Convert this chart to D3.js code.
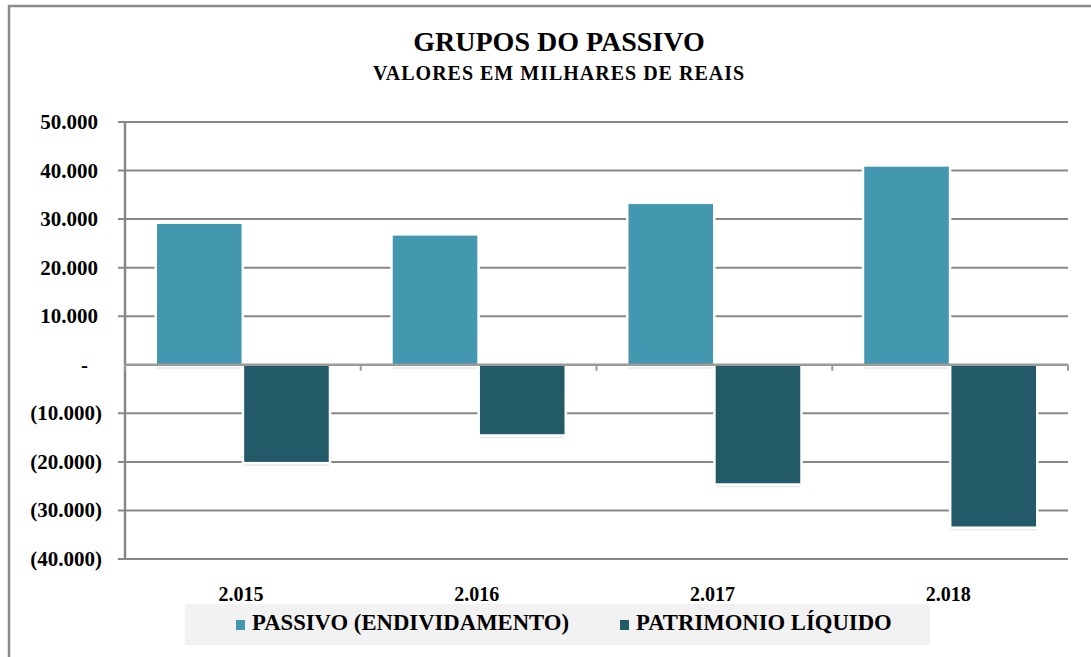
<!DOCTYPE html>
<html>
<head>
<meta charset="utf-8">
<script src="https://d3js.org/d3.v7.min.js"></script>
<style>
body {
  margin: 0;
  background: #fff;
}
svg text {
  font-family: 'Liberation Serif', 'DejaVu Serif', serif;
  font-weight: 700;
  fill: #000;
}
.grid line {
  stroke: #878787;
  stroke-width: 2;
}
</style>
</head>
<body>
<div id="chart"></div>
<script>

var anos = ["2.015", "2.016", "2.017", "2.018"];
var series = ["PASSIVO (ENDIVIDAMENTO)", "PATRIMONIO LÍQUIDO"];
var passivo = [29000, 26600, 33100, 40800];
var patrimonio = [-20000, -14300, -24400, -33300];
var yTicks = [50000, 40000, 30000, 20000, 10000, 0, -10000, -20000, -30000, -40000];
var cores = ["#4398af", "#225a68"];

var W = 1091, H = 657;
var fonte = "'Liberation Serif', 'DejaVu Serif', serif";

var svg = d3.select("#chart")
    .append("svg")
    .attr("width", W)
    .attr("height", H)
    .attr("font-family", fonte);

// moldura do grafico (so topo e esquerda aparecem)
svg.append("rect")
    .attr("x", 9).attr("y", 6)
    .attr("width", 1200).attr("height", 700)
    .attr("fill", "none")
    .attr("stroke", "#8a8a8a")
    .attr("stroke-width", 2.5);

svg.append("text")
    .attr("x", 559).attr("y", 51)
    .attr("text-anchor", "middle")
    .style("font-size", "28px")
    .text("GRUPOS DO PASSIVO");
svg.append("text")
    .attr("x", 559).attr("y", 80)
    .attr("text-anchor", "middle")
    .style("font-size", "20px")
    .style("letter-spacing", "1px")
    .text("VALORES EM MILHARES DE REAIS");

var x0 = d3.scaleBand().domain(anos).range([125, 1068]);
var x1 = d3.scaleBand().domain(series).range([32, x0.bandwidth() - 32]).paddingInner(0.03);
var y = d3.scaleLinear().domain([-40000, 50000]).range([559, 122]);

var fmt = d3.formatLocale({decimal: ",", thousands: ".", grouping: [3]}).format(",.0f");
function rotulo(d) {
  if (d == 0) return "-";
  if (d < 0) return "(" + fmt(-d) + ")";
  return fmt(d);
}

// linhas de grade
svg.append("g")
    .attr("class", "grid")
    .selectAll("line")
    .data(yTicks.filter(function(d){ return d != 0; }))
    .enter().append("line")
    .attr("x1", 118).attr("x2", 1068)
    .attr("y1", function(d){ return y(d); })
    .attr("y2", function(d){ return y(d); });

svg.append("line")
    .attr("x1", 125).attr("x2", 125)
    .attr("y1", y(50000)).attr("y2", y(-40000))
    .attr("stroke", "#878787").attr("stroke-width", 2.5);

svg.append("g")
    .selectAll("text")
    .data(yTicks)
    .enter().append("text")
    .attr("x", function(d){ return d < 0 ? 102 : (d == 0 ? 88 : 98); })
    .attr("y", function(d){ return y(d) + 7; })
    .attr("text-anchor", "end")
    .style("font-size", "21px")
    .text(rotulo);

var dados = anos.map(function(a, i){
  return [{s: series[0], v: passivo[i]}, {s: series[1], v: patrimonio[i]}];
});

var grupos = svg.selectAll(".grupo")
    .data(dados)
    .enter().append("g")
    .attr("class", "grupo")
    .attr("transform", function(d, i){ return "translate(" + x0(anos[i]) + ",0)"; });

// sombra pontilhada embaixo das barras
grupos.selectAll(".sombra")
    .data(function(d){ return d; })
    .enter().append("line")
    .attr("x1", function(d){ return x1(d.s); })
    .attr("x2", function(d){ return x1(d.s) + x1.bandwidth(); })
    .attr("y1", function(d){ return (d.v > 0 ? y(0) : y(d.v)) + 3; })
    .attr("y2", function(d){ return (d.v > 0 ? y(0) : y(d.v)) + 3; })
    .attr("stroke", "#d4d4d4")
    .attr("stroke-width", 2)
    .attr("stroke-dasharray", "1,1");

grupos.selectAll("rect")
    .data(function(d){ return d; })
    .enter().append("rect")
    .attr("x", function(d){ return x1(d.s); })
    .attr("width", x1.bandwidth())
    .attr("y", function(d){ return y(Math.max(0, d.v)); })
    .attr("height", function(d){ return Math.abs(y(d.v) - y(0)); })
    .attr("fill", function(d, i){ return cores[i]; })
    .attr("stroke", "#fff")
    .attr("stroke-width", 5)
    .style("paint-order", "stroke");

// eixo do zero
svg.append("line")
    .attr("x1", 125).attr("x2", 1068)
    .attr("y1", y(0)).attr("y2", y(0))
    .attr("stroke", "#9a9a9a").attr("stroke-width", 2.5);

svg.append("g")
    .selectAll("line")
    .data(anos.concat(["fim"]))
    .enter().append("line")
    .attr("x1", function(d, i){ return 125 + i * x0.bandwidth(); })
    .attr("x2", function(d, i){ return 125 + i * x0.bandwidth(); })
    .attr("y1", y(0)).attr("y2", y(0) + 6)
    .attr("stroke", "#9a9a9a").attr("stroke-width", 2);

svg.append("g")
    .selectAll("text")
    .data(anos)
    .enter().append("text")
    .attr("x", function(d){ return x0(d) + x0.bandwidth() / 2 - 2; })
    .attr("y", 601)
    .attr("text-anchor", "middle")
    .style("font-size", "20px")
    .text(function(d){ return d; });

// legenda
svg.append("rect")
    .attr("x", 185).attr("y", 604)
    .attr("width", 745).attr("height", 41)
    .attr("fill", "#f2f2f2");

var legX = [236, 620];
var leg = svg.selectAll(".leg")
    .data(series)
    .enter().append("g")
    .attr("class", "leg")
    .attr("transform", function(d, i){ return "translate(" + legX[i] + ",0)"; });
leg.append("rect")
    .attr("x", 0).attr("y", 620)
    .attr("width", 9).attr("height", 10)
    .attr("fill", function(d, i){ return cores[i]; });
leg.append("text")
    .attr("x", 16).attr("y", 630)
    .style("font-size", "22.7px")
    .text(function(d){ return d; });

</script>
</body>
</html>
